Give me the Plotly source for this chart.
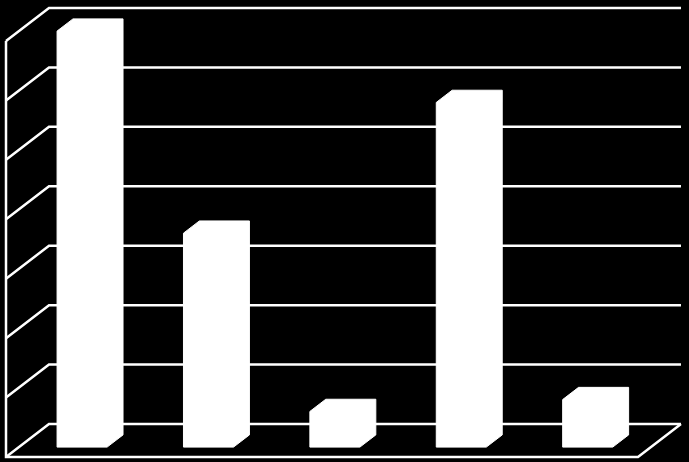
import plotly.graph_objects as go

# ---- data ----
categories = ["1", "2", "3", "4", "5"]
values = [70, 36, 6, 58, 8]
grid_ticks = [0, 10, 20, 30, 40, 50, 60, 70]

# ---- oblique 3D projection settings (in axis units) ----
DX = 0.340      # x shift for full depth
DY = 5.55       # y shift for full depth
BAR_D0, BAR_D1 = 0.30, 0.67   # bar front/back depth fraction
HALF_W = 0.198                # half bar width (category units)
X0, X1 = -0.5, len(categories) - 0.5
VMAX = max(grid_ticks)

def proj(x, v, d):
    return x + d * DX, v + d * DY

fig = go.Figure()
line = dict(color="white", width=2.5)

# walls: gridlines on left wall (diagonal) + back wall (horizontal)
for t in grid_ticks:
    xa, ya = proj(X0, t, 0)
    xb, yb = proj(X0, t, 1)
    xc, yc = proj(X1, t, 1)
    fig.add_trace(go.Scatter(x=[xa, xb, xc], y=[ya, yb, yc], mode="lines",
                             line=line, hoverinfo="skip", showlegend=False))

# left wall front edge and floor outline
xa, ya = proj(X0, VMAX, 0)
xb, yb = proj(X0, 0, 0)
xc, yc = proj(X1, 0, 0)
xd, yd = proj(X1, 0, 1)
fig.add_trace(go.Scatter(x=[xa, xb, xc, xd], y=[ya, yb, yc, yd], mode="lines",
                         line=line, hoverinfo="skip", showlegend=False))

# bars
for i, (c, v) in enumerate(zip(categories, values)):
    xl, xr = i - HALF_W, i + HALF_W
    pts = [proj(xl, 0, BAR_D0), proj(xl, v, BAR_D0), proj(xl, v, BAR_D1),
           proj(xr, v, BAR_D1), proj(xr, 0, BAR_D1), proj(xr, 0, BAR_D0),
           proj(xl, 0, BAR_D0)]
    fig.add_trace(go.Scatter(x=[p[0] for p in pts], y=[p[1] for p in pts],
                             mode="lines", fill="toself", fillcolor="white",
                             line=dict(color="white", width=1),
                             name=c, hoverinfo="name", showlegend=False))

W, H = 689, 462
px_per_x = 126.4
px_per_v = 5.943
fig.update_layout(
    width=W, height=H,
    margin=dict(l=0, r=0, t=0, b=0),
    paper_bgcolor="black", plot_bgcolor="black",
    xaxis=dict(range=[X0 - 6 / px_per_x, X0 + (W - 6) / px_per_x],
               visible=False, fixedrange=True),
    yaxis=dict(range=[-(H - 457) / px_per_v, 457 / px_per_v],
               visible=False, fixedrange=True),
)

fig.write_html("out.html", config={"displayModeBar": False},
               post_script="document.body.style.margin='0';document.body.style.background='black';")
